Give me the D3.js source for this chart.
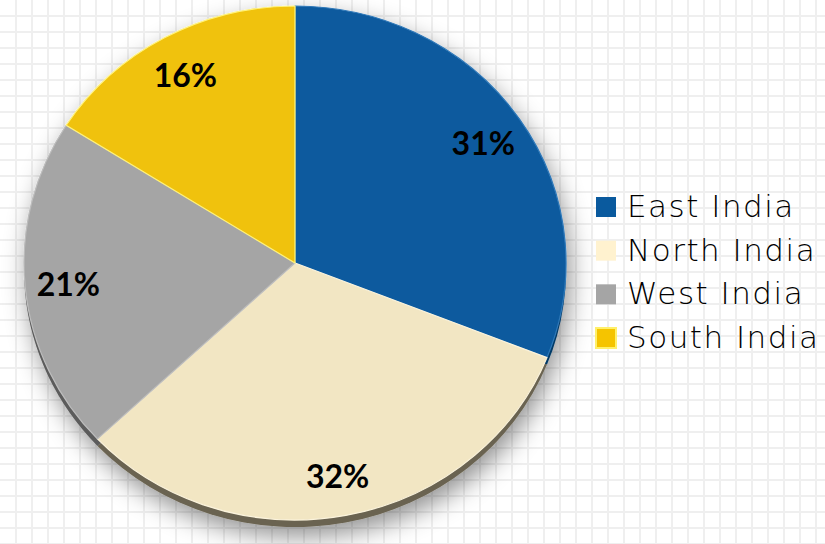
<!DOCTYPE html>
<html>
<head>
<meta charset="utf-8">
<script src="https://cdnjs.cloudflare.com/ajax/libs/d3/7.8.5/d3.min.js"></script>
<style>
  html, body { margin: 0; padding: 0; background: #fff; }
  svg { display: block; }
</style>
</head>
<body>
<div id="chart"></div>
<script>
const w = 825;
const h = 544;

// chart data
const regions = ['East India', 'North India', 'West India', 'South India'];
const shares = [31, 32, 21, 16];
const sliceColors = ['#0a5a9e', '#f2e6c3', '#a5a5a5', '#f0c20c'];
const rimColors = ['#063a66', '#6b6451', '#5c5c5c', '#8a7007'];
const edgeColors = ['#2f78b8', '#fbf3dc', '#bdbdbd', '#fff27a'];
const legendColors = ['#0a5a9e', '#fff2cf', '#a5a5a5', '#f5c400'];

const cx = 295;
const cy = 263;
const ry = 257;
const stretch = 271 / 257;

const svg = d3.select('#chart')
  .append('svg')
  .attr('width', w)
  .attr('height', h);

const defs = svg.append('defs');
const shadow = defs.append('filter')
  .attr('id', 'shadow')
  .attr('x', '-20%').attr('y', '-20%')
  .attr('width', '140%').attr('height', '140%');
shadow.append('feDropShadow')
  .attr('dx', 4)
  .attr('dy', 10)
  .attr('stdDeviation', 12)
  .attr('flood-color', '#000')
  .attr('flood-opacity', 0.42);

// background grid
const grid = svg.append('g');
d3.range(15, w, 16).forEach(function (x) {
  grid.append('rect').attr('x', x).attr('y', 0).attr('width', 2).attr('height', h).attr('fill', '#efefef');
});
d3.range(15, h, 16).forEach(function (y) {
  grid.append('rect').attr('x', 0).attr('y', y).attr('width', w).attr('height', 2).attr('fill', '#efefef');
});

const pie = d3.pie().sort(null).value(d => d);
const arcs = pie(shares);
const arc = d3.arc().innerRadius(0).outerRadius(ry);
const labelArc = d3.arc().innerRadius(ry * 0.84).outerRadius(ry * 0.84);

const pieGroup = svg.append('g')
  .attr('filter', 'url(#shadow)');

// rim (thickness of the disc)
pieGroup.append('g')
  .attr('transform', 'translate(' + cx + ',' + (cy + 7) + ') scale(' + stretch + ',1)')
  .selectAll('path')
  .data(arcs)
  .enter()
  .append('path')
  .attr('d', arc)
  .attr('fill', (d, i) => rimColors[i]);

// top face
pieGroup.append('g')
  .attr('transform', 'translate(' + cx + ',' + cy + ') scale(' + stretch + ',1)')
  .selectAll('path')
  .data(arcs)
  .enter()
  .append('path')
  .attr('d', arc)
  .attr('fill', (d, i) => sliceColors[i])
  .attr('stroke', (d, i) => edgeColors[i])
  .attr('stroke-width', 1.2)
  .attr('stroke-linejoin', 'round');

// percent labels
svg.append('g')
  .selectAll('text')
  .data(arcs)
  .enter()
  .append('text')
  .attr('x', d => cx + labelArc.centroid(d)[0] * stretch)
  .attr('y', d => cy + labelArc.centroid(d)[1] + 13)
  .attr('text-anchor', 'middle')
  .style('font-family', 'Lato, "Open Sans", sans-serif')
  .style('font-weight', 'bold')
  .style('font-size', '32px')
  .style('fill', '#000')
  .text(d => d.data + '%');

// legend
const legendY = d3.scalePoint().domain(regions).range([207, 338]);
const legend = svg.append('g')
  .selectAll('g')
  .data(regions)
  .enter()
  .append('g')
  .attr('transform', d => 'translate(596,' + legendY(d) + ')');

legend.append('rect')
  .attr('x', 0)
  .attr('y', -10)
  .attr('width', 20)
  .attr('height', 20)
  .attr('fill', (d, i) => legendColors[i])
  .attr('stroke', (d, i) => i === 3 ? '#fff06a' : 'none')
  .attr('stroke-width', 2);

legend.append('text')
  .attr('x', 31)
  .attr('y', 10)
  .style('font-family', '"DejaVu Sans", sans-serif')
  .style('font-weight', 200)
  .style('font-size', '31px')
  .style('letter-spacing', '1.5px')
  .style('fill', '#000')
  .text(d => d);
</script>
</body>
</html>
